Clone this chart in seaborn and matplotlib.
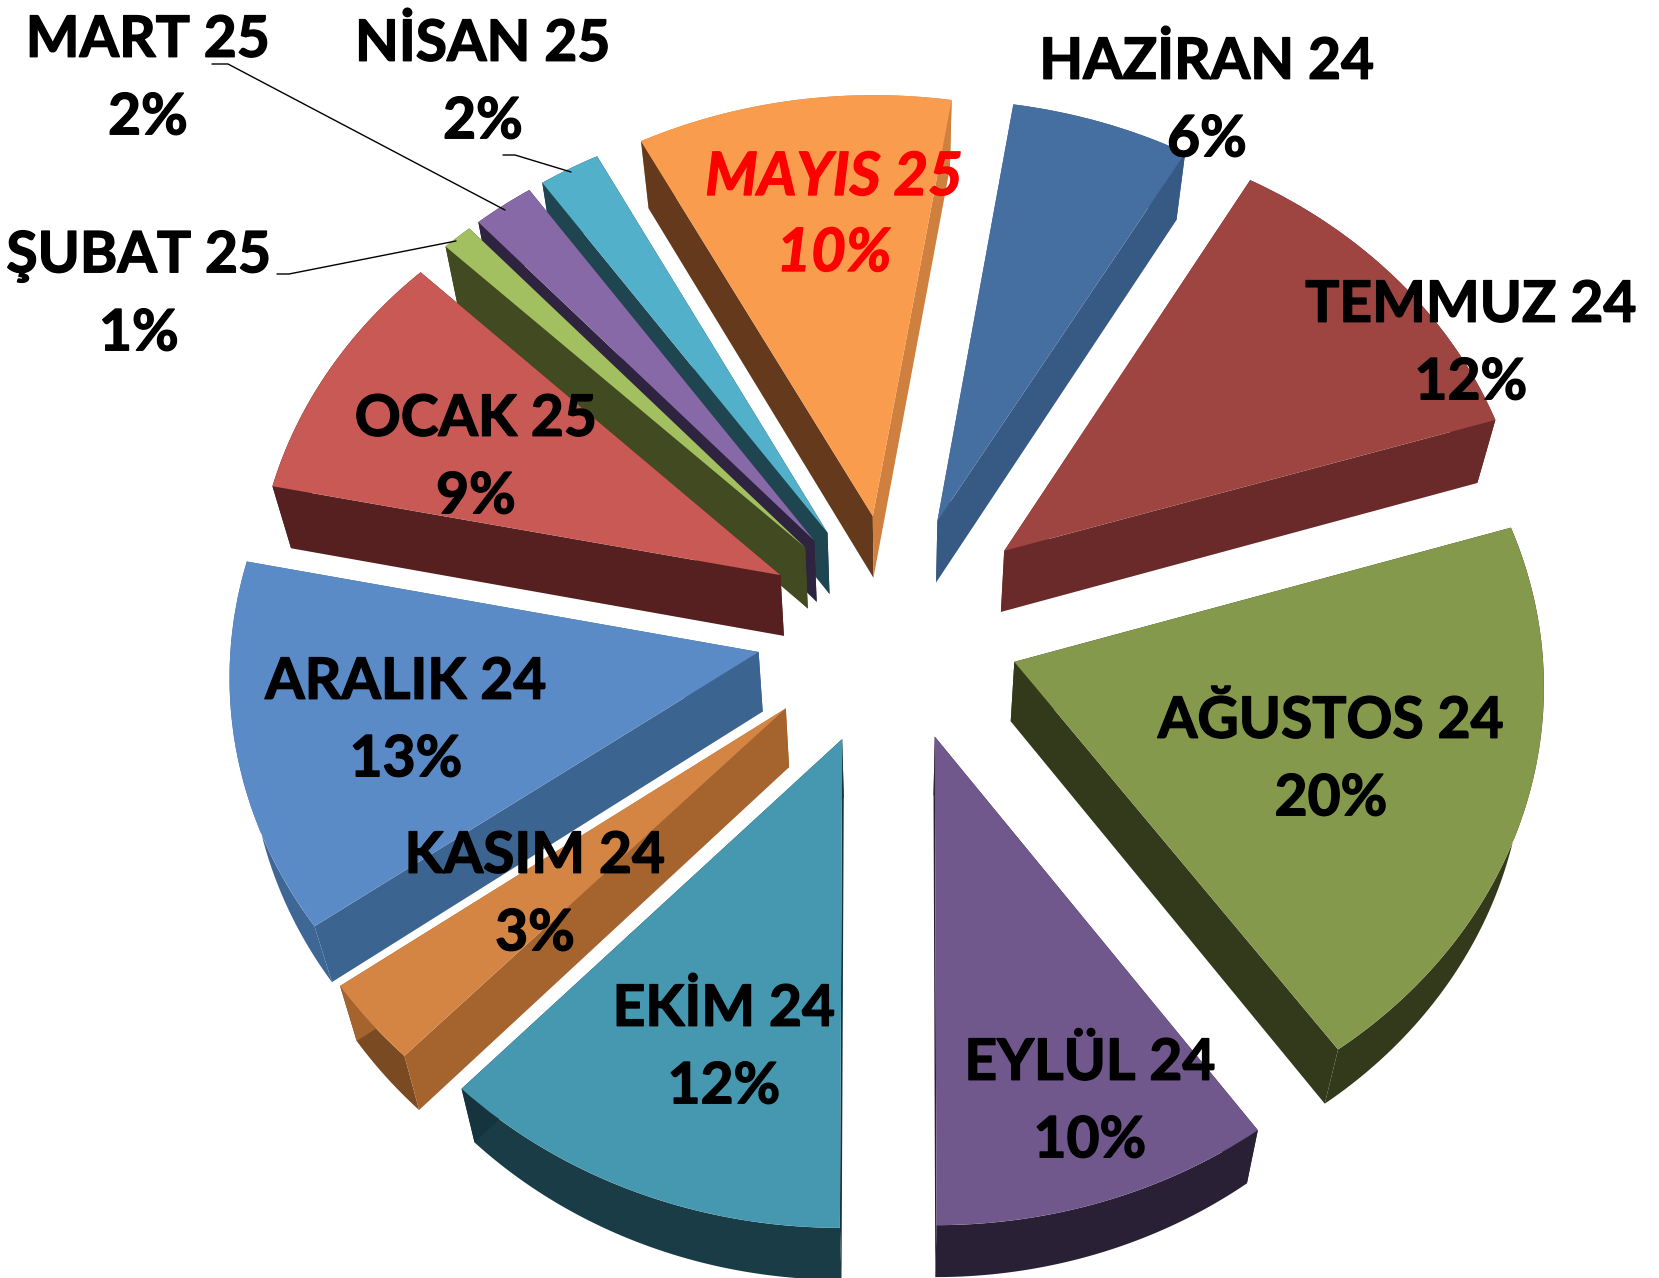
import numpy as np
import matplotlib
matplotlib.use("Agg")
import matplotlib.pyplot as plt
import matplotlib.patheffects as pe
from matplotlib.transforms import Transform
import seaborn as sns

months = ["HAZİRAN 24", "TEMMUZ 24", "AĞUSTOS 24", "EYLÜL 24", "EKİM 24", "KASIM 24",
          "ARALIK 24", "OCAK 25", "ŞUBAT 25", "MART 25", "NİSAN 25", "MAYIS 25"]
shares = [5.8, 11.9, 19.9, 9.9, 12.1, 3.0, 13.1, 9.1, 1.0, 2.0, 2.0, 10.2]

top_colors = ["#456fa1", "#9e4441", "#84994b", "#70578c", "#4698b0", "#d58543",
              "#5b8bc6", "#c85955", "#a3c060", "#8769a8", "#52b0cb", "#fa9c4d"]
start_wall = ["#375a85", "#6b2a2a", "#333a1c", "#2a2036", "#16343d", "#a5632e",
              "#3c6491", "#55201f", "#414a20", "#2f2440", "#1f4550", "#653a1c"]
end_wall = ["#375a85", "#6b2a2a", "#333a1c", "#2a2036", "#16343d", "#a5632e",
            "#3c6491", "#55201f", "#414a20", "#2f2440", "#1f4550", "#cf803f"]
outer_wall = ["#375a85", "#6b2a2a", "#333a1c", "#2a2036", "#1a3c47", "#7a4a22",
              "#3f6795", "#55201f", "#414a20", "#2f2440", "#1f4550", "#cf803f"]

# layout, in pixels of the 1659x1278 canvas
W, H = 1659, 1278
OX, OY = 894, 627
RX, RY = 527, 455
PX, PY = 0.045, 0.05
EXPLODE = [0.25, 0.27, 0.24, 0.25, 0.262, 0.27, 0.262, 0.245, 0.245, 0.245, 0.245, 0.25]
START_CLOCKWISE = 9.0
label_x = [1207, 1471, 1331, 1090, 724, 535, 406, 476, 139, 148, 483, 834]
label_y = [101, 344, 760, 1102, 1048, 895, 721, 458, 295, 79, 83, 216]
leaders = [([212, 228, 505], [64, 64, 210]),
           ([277, 289, 456], [274, 274, 241]),
           ([503, 515, 571], [155, 155, 172])]


def project(X, Y, z=0.0):
    """Map the pie's plane to canvas pixels; z=1 is the underside of the slab."""
    X, Y = np.asarray(X, float), np.asarray(Y, float)
    px = RX * X * (1 - PX * Y)
    py = -RY * Y * (1 - PY * Y)
    return OX + px * (1 - 0.03 * z), OY + py + z * (60 + 6.5 * Y)


class PlaneProjection(Transform):
    input_dims = output_dims = 2
    is_separable = False
    has_inverse = False

    def transform_non_affine(self, values):
        x, y = project(values[:, 0], values[:, 1])
        return np.column_stack([x, y])


sns.set_theme(style="white")
plt.rcParams["font.family"] = ["Lato", "DejaVu Sans"]

fig = plt.figure(figsize=(W / 100, H / 100), dpi=100, facecolor="white")
ax = fig.add_axes([0, 0, 1, 1])
palette = sns.color_palette(top_colors)
wedges, _ = ax.pie(shares, explode=EXPLODE, colors=palette,
                   startangle=90 - START_CLOCKWISE, counterclock=False, radius=1,
                   wedgeprops={"linewidth": 0})
ax.set_aspect("auto")
ax.set_xlim(0, W)
ax.set_ylim(H, 0)
ax.axis("off")

plane = PlaneProjection() + ax.transData
depths = [w.center[1] for w in wedges]
order = np.argsort(depths)[::-1]
for rank, i in enumerate(order):
    w = wedges[i]
    z = 2 + 2 * rank
    w.set_transform(plane)
    w.set_zorder(z + 1)
    cx, cy = w.center
    t = np.radians(np.linspace(w.theta1, w.theta2, 80))
    ax_x, ax_y = cx + w.r * np.cos(t), cy + w.r * np.sin(t)
    # outer rim
    x0, y0 = project(ax_x, ax_y, 0)
    x1, y1 = project(ax_x, ax_y, 1)
    ax.fill(np.r_[x0, x1[::-1]], np.r_[y0, y1[::-1]], color=outer_wall[i], lw=0, zorder=z)
    # clockwise-first edge is theta2, clockwise-last edge is theta1
    for k, col in ((-1, start_wall[i]), (0, end_wall[i])):
        ex, ey = np.array([cx, ax_x[k]]), np.array([cy, ax_y[k]])
        a0, b0 = project(ex, ey, 0)
        a1, b1 = project(ex, ey, 1)
        ax.fill(np.r_[a0, a1[::-1]], np.r_[b0, b1[::-1]], color=col, lw=0, zorder=z)

for xs, ys in leaders:
    ax.plot(xs, ys, color="black", lw=1.0, zorder=60)

for i, (m, s) in enumerate(zip(months, shares)):
    special = m == "MAYIS 25"
    col = "#ff0000" if special else "black"
    ax.text(label_x[i], label_y[i], f"{m}\n{round(s)}%", ha="center", va="center",
            fontsize=43 if special else 41,
            fontweight="bold", fontstyle="italic" if special else "normal",
            color=col, linespacing=1.5 if special else 1.57, zorder=70,
            path_effects=[pe.withStroke(linewidth=1.0, foreground=col)])

fig.savefig("out.png", dpi=100, facecolor="white")
